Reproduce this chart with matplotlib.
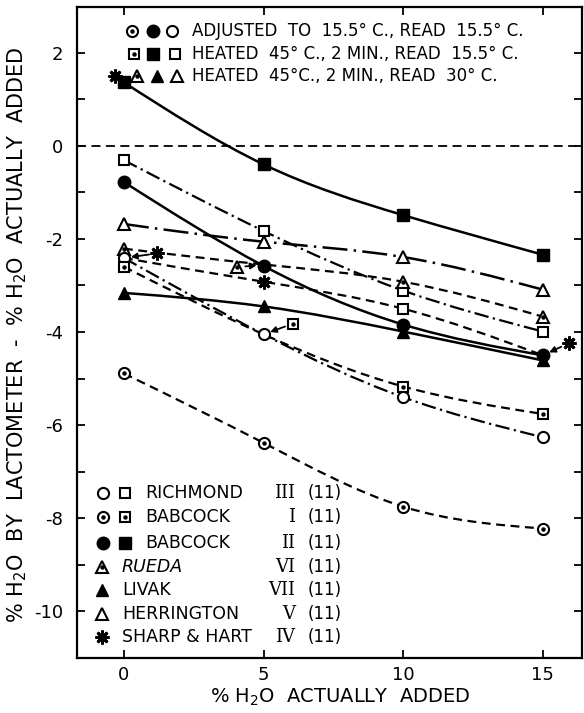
import numpy as np
import matplotlib.pyplot as plt
from matplotlib.path import Path
from matplotlib.patches import PathPatch

# % H2O actually added
x_added = [0, 5, 10, 15]

# % H2O by lactometer - % H2O actually added
richmond_adj = [-2.41, -4.05, -5.40, -6.26]
babcock1_adj = [-4.89, -6.38, -7.75, -8.22]
babcock2_adj = [-0.78, -2.58, -3.84, -4.50]
richmond_heat = [-0.31, -1.83, -3.11, -3.99]
babcock1_heat = [-2.60, -4.05, -5.17, -5.76]
babcock2_heat = [1.36, -0.40, -1.49, -2.34]
rueda_30 = [-2.21, -2.55, -2.92, -3.67]
livak_30 = [-3.16, -3.45, -3.99, -4.61]
herrington_30 = [-1.68, -2.06, -2.39, -3.09]
sharp_hart_30 = [-2.41, -2.92, -3.50, -4.50]

# symbols drawn beside hidden points, arrow points to the real value
moved_x = [1.2, 4.05, 6.05, 15.93]
moved_y = [-2.31, -2.61, -3.82, -4.24]

x_ticks = [0, 5, 10, 15]
x_tick_labels = ['0', '5', '10', '15']
y_ticks = [2, 0, -2, -4, -6, -8, -10]
y_tick_labels = ['2', '0', '-2', '-4', '-6', '-8', '-10']

key_rows = ['ADJUSTED  TO  15.5° C., READ  15.5° C.',
            'HEATED  45° C., 2 MIN., READ  15.5° C.',
            'HEATED  45°C., 2 MIN., READ  30° C.']
lacto_names = ['RICHMOND', 'BABCOCK', 'BABCOCK', 'RUEDA', 'LIVAK',
               'HERRINGTON', 'SHARP & HART']
lacto_numerals = ['III', 'I', 'II', 'VI', 'VII', 'V', 'IV']
lacto_ref = '(11)'

W, H = 584, 713
fig = plt.figure(figsize=(W / 100, H / 100), dpi=100)
ax = fig.add_axes([77 / W, 1 - 658 / H, 505 / W, 651 / H])
ax.set_xlim(-1.68, 16.4)
ax.set_ylim(-10.94, 2.98)

DASH = (0, (4, 2.5))
DASHDOT = (0, (6.5, 2, 1, 2))
LONGDASHDOT = (0, (10, 2.5, 1, 2.5))


def smooth(xs, ys):
    # natural cubic spline through the points, as bezier segments
    x = np.asarray(xs, float)
    y = np.asarray(ys, float)
    n = len(x)
    h = np.diff(x)
    A = np.zeros((n, n))
    b = np.zeros(n)
    A[0, 0], A[0, 1] = 2 / h[0], 1 / h[0]
    b[0] = 3 * (y[1] - y[0]) / h[0] ** 2
    A[-1, -2], A[-1, -1] = 1 / h[-1], 2 / h[-1]
    b[-1] = 3 * (y[-1] - y[-2]) / h[-1] ** 2
    for i in range(1, n - 1):
        A[i, i - 1] = 1 / h[i - 1]
        A[i, i] = 2 / h[i - 1] + 2 / h[i]
        A[i, i + 1] = 1 / h[i]
        b[i] = 3 * ((y[i] - y[i - 1]) / h[i - 1] ** 2 + (y[i + 1] - y[i]) / h[i] ** 2)
    m = np.linalg.solve(A, b)
    verts = [(x[0], y[0])]
    codes = [Path.MOVETO]
    for i in range(n - 1):
        verts += [(x[i] + h[i] / 3, y[i] + m[i] * h[i] / 3),
                  (x[i + 1] - h[i] / 3, y[i + 1] - m[i + 1] * h[i] / 3),
                  (x[i + 1], y[i + 1])]
        codes += [Path.CURVE4] * 3
    return Path(verts, codes)


def curve(ys, ls, lw=1.6):
    ax.add_patch(PathPatch(smooth(x_added, ys), fill=False, lw=lw,
                           ls=ls, ec='black', capstyle='butt', zorder=2))


def mark(xs, ys, kind, tr=None):
    kw = dict(ls='none', color='black', zorder=4, clip_on=False)
    if tr is not None:
        kw['transform'] = tr
    shape = {'c': 'o', 's': 's', 't': '^'}.get(kind[1])
    size = {'c': 8, 's': 7, 't': 8}.get(kind[1])
    if kind == 'st':
        ax.plot(xs, ys, marker=(8, 2, 0), ms=10, mew=2, **kw)
    elif kind[0] == 'f':
        ax.plot(xs, ys, marker=shape, ms=size + 1, mfc='black', mec='black', **kw)
    else:
        ax.plot(xs, ys, marker=shape, ms=size, mfc='white', mec='black', mew=1.5, **kw)
        if kind[0] == 'd':
            ax.plot(xs, ys, marker='o', ms=2.2, mfc='black', mec='black', **kw)


# zero line
ax.axhline(0, color='black', lw=1.3, ls=(0, (5, 3)), zorder=1)

# curves
curve(babcock2_heat, '-', 1.8)
curve(babcock2_adj, '-', 1.8)
curve(livak_30, '-', 1.8)
curve(richmond_heat, DASHDOT)
curve(herrington_30, LONGDASHDOT, 1.8)
curve(rueda_30, DASH)
curve(sharp_hart_30, DASH)
curve(richmond_adj, DASHDOT)
curve(babcock1_heat, DASH)
curve(babcock1_adj, DASH)

# symbols
mark(x_added, babcock2_heat, 'fs')
mark(x_added, richmond_heat, 'os')
mark(x_added, herrington_30, 'ot')
mark([x_added[0]] + x_added[2:], [rueda_30[0]] + rueda_30[2:], 'dt')
mark(x_added[1:2], sharp_hart_30[1:2], 'st')
mark(x_added[2:3], sharp_hart_30[2:3], 'os')
mark(x_added, livak_30, 'ft')
mark(x_added, babcock2_adj, 'fc')
mark(x_added, richmond_adj, 'oc')
mark([x_added[0]] + x_added[2:], [babcock1_heat[0]] + babcock1_heat[2:], 'ds')
mark(x_added, babcock1_adj, 'dc')

# displaced symbols with arrows
moved_kind = ['st', 'dt', 'ds', 'st']
moved_to = [(x_added[0], sharp_hart_30[0]), (x_added[1], rueda_30[1]),
            (x_added[1], babcock1_heat[1]), (x_added[3], sharp_hart_30[3])]
for mx, my, k, (tx, ty) in zip(moved_x, moved_y, moved_kind, moved_to):
    mark([mx], [my], k)
    ax.annotate('', xy=(tx, ty), xytext=(mx, my),
                arrowprops=dict(arrowstyle='-|>', color='black', lw=1.3,
                                mutation_scale=9, shrinkA=6, shrinkB=5))

# axes styling
for s in ax.spines.values():
    s.set_linewidth(1.6)
ax.set_xticks(x_ticks)
ax.set_xticklabels(x_tick_labels)
ax.set_yticks(y_ticks)
ax.set_yticklabels(y_tick_labels)
ax.set_yticks(np.arange(-11, 3, 1), minor=True)
ax.tick_params(which='both', direction='in', top=True, right=True,
               length=6, width=1.3, labelsize=13)
ax.tick_params(axis='y', pad=10)
ax.tick_params(axis='x', pad=6)
ax.tick_params(which='minor', labelleft=False)


def fx(px):
    return px / W


def fy(py):
    return 1 - py / H


ft = fig.transFigure

# axis titles
fig.text(fx(340), fy(697), '% H$_2$O  ACTUALLY  ADDED', fontsize=14,
         ha='center', va='center')
fig.text(fx(17), fy(335), '% H$_2$O  BY  LACTOMETER  -  % H$_2$O  ACTUALLY  ADDED',
         fontsize=15, rotation=90, ha='center', va='center')

# key for temperatures
key_rows_y = [31, 54, 76]
key_syms = [[(132, 'dc'), (153, 'fc'), (172, 'oc')],
            [(134, 'ds'), (153, 'fs'), (175, 'os')],
            [(115, 'st'), (137, 'dt'), (157, 'ft'), (177, 'ot')]]
for ry, text, syms in zip(key_rows_y, key_rows, key_syms):
    for sx, k in syms:
        mark([fx(sx)], [fy(ry)], k, tr=ft)
    fig.text(fx(192), fy(ry), text, fontsize=12, ha='left', va='center')

# key for lactometers
lacto_y = [493, 517, 543, 567, 590, 614, 637]
lacto_syms = [[(103, 'oc'), (125, 'os')], [(103, 'dc'), (125, 'ds')],
              [(103, 'fc'), (125, 'fs')], [(102, 'dt')], [(102, 'ft')],
              [(102, 'ot')], [(102, 'st')]]
name_x = [145, 145, 145, 122, 122, 122, 122]
for ry, name, num, syms, nx in zip(lacto_y, lacto_names, lacto_numerals,
                                    lacto_syms, name_x):
    for sx, k in syms:
        mark([fx(sx)], [fy(ry)], k, tr=ft)
    fig.text(fx(nx), fy(ry), name, fontsize=12.5, ha='left', va='center',
             style='italic' if name == 'RUEDA' else 'normal')
    fig.text(fx(295), fy(ry), num, fontsize=13, ha='right', va='center',
             family='DejaVu Serif')
    fig.text(fx(325), fy(ry), lacto_ref, fontsize=12, ha='center', va='center')

fig.savefig('out.png', dpi=100)
